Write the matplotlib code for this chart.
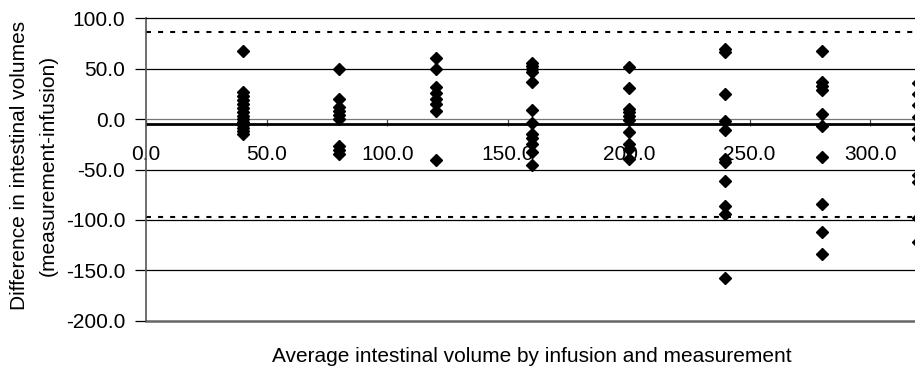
import matplotlib
matplotlib.use("Agg")
import matplotlib.pyplot as plt
import numpy as np

plt.rcParams['font.family'] = ['Liberation Sans', 'DejaVu Sans']

# average volume groups and measured differences (measurement - infusion)
x_groups = [40, 80, 120, 160, 200, 240, 280, 320]
diffs = [
    [68, 27, 23, 19, 15, 11, 7, 3, 0, -3, -6, -9, -12, -15],
    [50, 20, 12, 8, 4, 0, -27, -31, -35],
    [61, 50, 32, 26, 20, 15, 8, -41],
    [56, 53, 50, 47, 37, 9, -4, -15, -19, -25, -33, -46],
    [52, 31, 10, 7, 3, -1, -13, -25, -30, -40],
    [70, 67, 25, -2, -11, -40, -43, -61, -86, -94, -158],
    [68, 37, 33, 29, 5, -7, -38, -84, -112, -134],
    [36, 25, 14, 2, -10, -19, -55, -62, -98, -122],
]
mean_diff = -5.0
upper_loa = 86.6
lower_loa = -96.9

xs = np.concatenate([[x] * len(d) for x, d in zip(x_groups, diffs)])
ys = np.concatenate(diffs)

fig = plt.figure(figsize=(9.15, 3.69), dpi=100)
ax = fig.add_axes([146 / 915, 48.3 / 369, (915 - 146) / 915, 302.4 / 369])

ymin, ymax = -200, 100
ax.set_ylim(ymin, ymax)
ax.set_xlim(0, (915 - 146) / 2.414)

for v in [50, -50, -100, -150]:
    ax.axhline(v, color='black', lw=0.9, zorder=1)
ax.axhline(ymin, color='#666666', lw=1.8, zorder=1, clip_on=False)
ax.axhline(mean_diff, color='black', lw=2.0, zorder=2)
ax.axhline(upper_loa, color='black', lw=1.5, ls=(0, (2.4, 3.4)), zorder=2)
ax.axhline(lower_loa, color='black', lw=1.5, ls=(0, (2.4, 3.4)), zorder=2)

ax.plot(xs, ys, 'D', color='black', ms=6.5, clip_on=False, zorder=3)

ax.spines['top'].set_color('black')
ax.spines['top'].set_linewidth(0.9)
ax.spines['left'].set_color('#555555')
ax.spines['left'].set_linewidth(1.2)
ax.spines['right'].set_visible(False)
# x axis crossing at zero
ax.spines['bottom'].set_position(('data', 0))
ax.spines['bottom'].set_color('#777777')
ax.spines['bottom'].set_linewidth(0.9)

xt = np.arange(0, 301, 50)
ax.set_xticks(xt)
ax.set_xticklabels([f"{v:.1f}" for v in xt])
ax.tick_params(axis='x', direction='out', length=5, width=0.9, color='#444444',
               pad=14, labelsize=15)

yt = np.arange(-200, 101, 50)
ax.set_yticks(yt)
ax.set_yticklabels([f"{v:.1f}" for v in yt])
ax.tick_params(axis='y', direction='out', length=8, width=0.9, pad=7, labelsize=15)

fig.text(20 / 915, 1 - 165 / 369, "Difference in intestinal volumes",
         rotation=90, ha='center', va='center', fontsize=15)
fig.text(48 / 915, 1 - 165 / 369, "(measurement-infusion)",
         rotation=90, ha='center', va='center', fontsize=15)
fig.text(532 / 915, 1 - 357 / 369,
         "Average intestinal volume by infusion and measurement",
         ha='center', va='center', fontsize=15)

fig.savefig("out.png", dpi=100)
